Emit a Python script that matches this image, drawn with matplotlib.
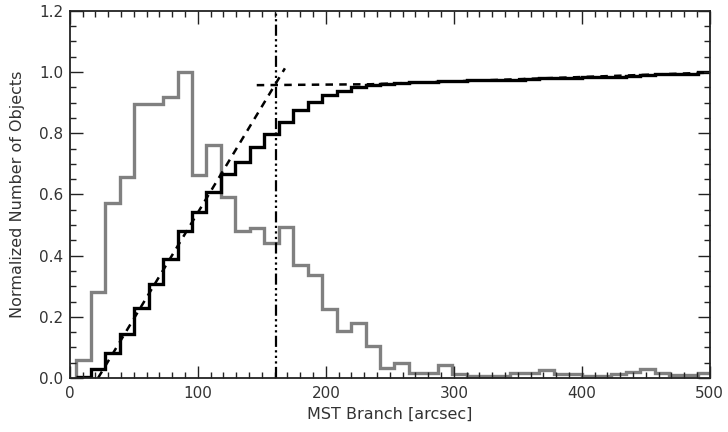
import numpy as np
import matplotlib
matplotlib.use("Agg")
import matplotlib.pyplot as plt
from matplotlib.ticker import MultipleLocator

# ---- data ----
bin_start = 5.0
bin_width = 11.3
hist_norm = [0.059, 0.282, 0.573, 0.658, 0.895, 0.895, 0.917, 1.000, 0.663, 0.761,
             0.590, 0.481, 0.490, 0.442, 0.494, 0.369, 0.337, 0.224, 0.155, 0.179,
             0.105, 0.032, 0.048, 0.015, 0.015, 0.042, 0.013, 0.005, 0.005, 0.005,
             0.016, 0.016, 0.026, 0.013, 0.013, 0.005, 0.005, 0.013, 0.020, 0.030,
             0.016, 0.010, 0.010, 0.016]
cum_norm = [0.003, 0.028, 0.083, 0.144, 0.228, 0.307, 0.388, 0.481, 0.544, 0.609,
            0.667, 0.707, 0.754, 0.797, 0.838, 0.876, 0.903, 0.925, 0.939, 0.950,
            0.957, 0.960, 0.964, 0.966, 0.967, 0.971, 0.972, 0.973, 0.973, 0.974,
            0.975, 0.977, 0.979, 0.981, 0.982, 0.983, 0.983, 0.985, 0.987, 0.990,
            0.992, 0.993, 0.995, 1.000]
rise_fit_x = [22, 168]
rise_fit_y = [0.0, 1.012]
flat_fit_x = [146, 235, 500]
flat_fit_y = [0.957, 0.960, 0.998]
branch_cut = 161
x_label = "MST Branch [arcsec]"
y_label = "Normalized Number of Objects"

# ---- plot ----
edges = bin_start + bin_width * np.arange(len(hist_norm) + 1)

fig = plt.figure(figsize=(7.28, 4.32), dpi=100)
ax = fig.add_axes([0.096, 0.125, 0.879, 0.85])

ax.stairs(hist_norm, edges, color="#808080", lw=2.4, baseline=0)
ax.stairs(cum_norm, edges, color="black", lw=2.4, baseline=None)
ax.plot(rise_fit_x, rise_fit_y, color="black", lw=1.8, ls=(0, (3, 2.5)))
ax.plot(flat_fit_x, flat_fit_y, color="black", lw=1.8, ls=(0, (3, 2.5)))
ax.axvline(branch_cut, color="black", lw=1.6,
           ls=(0, (5, 1.5, 1, 1.5, 1, 1.5, 1, 1.5)))

ax.set_xlim(0, 500)
ax.set_ylim(0, 1.2)
ax.xaxis.set_major_locator(MultipleLocator(100))
ax.xaxis.set_minor_locator(MultipleLocator(10))
ax.yaxis.set_major_locator(MultipleLocator(0.2))
ax.yaxis.set_minor_locator(MultipleLocator(0.05))
ax.yaxis.set_major_formatter(matplotlib.ticker.FormatStrFormatter("%.1f"))
ax.tick_params(which="both", direction="in", top=True, right=True,
               colors="#222222", labelcolor="#333333", labelsize=11, width=1)
ax.tick_params(which="major", length=9)
ax.tick_params(which="minor", length=4.5)
ax.tick_params(axis="x", pad=6)
ax.tick_params(axis="y", pad=5)
for s in ax.spines.values():
    s.set_linewidth(1.3)
    s.set_color("#222222")

ax.set_xlabel(x_label, fontsize=11.5, color="#333333", labelpad=4)
ax.set_ylabel(y_label, fontsize=11.5, color="#333333", labelpad=10)

fig.savefig("out.png", dpi=100)
